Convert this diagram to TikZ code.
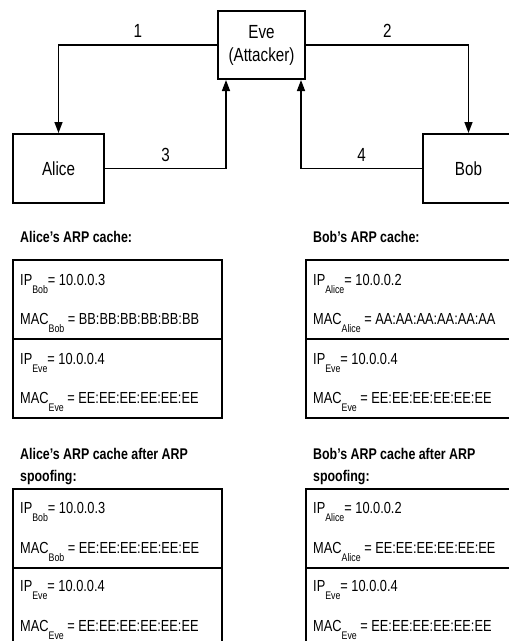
\documentclass[tikz,border=0pt]{standalone}
\usepackage{fontspec}
\setmainfont{Liberation Sans}[FakeStretch=0.8]
\usetikzlibrary{arrows.meta,positioning}

\newcommand{\lowsub}[1]{\raisebox{-8pt}{\fontsize{11}{11}\selectfont #1}}

\begin{document}
\begin{tikzpicture}[x=1pt,y=-1pt,
    party/.style={draw,line width=2pt,inner sep=0pt,align=center,
        font=\fontsize{19}{23}\selectfont},
    link/.style={line width=1.4pt,-{Triangle[length=11pt,width=8pt]}},
    num/.style={above=3pt,font=\fontsize{19}{19}\selectfont},
    entry/.style={draw,line width=2pt,minimum width=209pt,minimum height=79pt,
        inner sep=0pt,anchor=north west},
    row/.style={anchor=base west,inner sep=0pt,font=\fontsize{16}{16}\selectfont},
    caption/.style={anchor=base west,inner sep=0pt,align=left,
        font=\bfseries\fontsize{15.5}{22}\selectfont}]
    \useasboundingbox (0,0) rectangle (509,641);
    \clip (0,0) rectangle (509,641);

    % the three hosts
    \node[party,minimum width=87pt,minimum height=68pt] (eve) at (261.5,45) {Eve\\(Attacker)};
    \node[party,minimum width=91pt,minimum height=69pt] (alice) at (58.5,168.5) {Alice};
    \node[party,minimum width=91pt,minimum height=69pt] (bob) at (468.5,168.5) {Bob};

    \draw[link] (eve.west) -| node[num,pos=0.25] {1} (alice.north);
    \draw[link] (eve.east) -| node[num,pos=0.25] {2} (bob.north);
    \draw[link] (alice.east) -| node[num,pos=0.25] {3} ([xshift=9pt]eve.south west);
    \draw[link] (bob.west) -| node[num,pos=0.25] {4} ([xshift=-5pt]eve.south east);

    % caches before
    \node[caption] (acap) at (20,242) {Alice's ARP cache:};
    \node[entry] (abob) at (12,259) {};
    \node[entry] (aeve) at (12,338) {};
    \node[row] (abobip) at (20,285) {IP\lowsub{Bob}= 10.0.0.3};
    \node[row] (abobmac) at (20,324) {MAC\lowsub{Bob} = BB:BB:BB:BB:BB:BB};
    \node[row] (aeveip) at (20,364) {IP\lowsub{Eve}= 10.0.0.4};
    \node[row] (aevemac) at (20,403) {MAC\lowsub{Eve} = EE:EE:EE:EE:EE:EE};

    \node[caption] (bcap) at (313,242) {Bob's ARP cache:};
    \node[entry] (balice) at (305,259) {};
    \node[entry] (beve) at (305,338) {};
    \node[row] (baliceip) at (313,285) {IP\lowsub{Alice}= 10.0.0.2};
    \node[row] (balicemac) at (313,324) {MAC\lowsub{Alice} = AA:AA:AA:AA:AA:AA};
    \node[row] (beveip) at (313,364) {IP\lowsub{Eve}= 10.0.0.4};
    \node[row] (bevemac) at (313,403) {MAC\lowsub{Eve} = EE:EE:EE:EE:EE:EE};

    % caches after spoofing
    \node[caption] (acap2) at (20,481) {Alice's ARP cache after ARP\\spoofing:};
    \node[entry] (abob2) at (12,488) {};
    \node[entry] (aeve2) at (12,567) {};
    \node[row] (abobip2) at (20,513) {IP\lowsub{Bob}= 10.0.0.3};
    \node[row] (abobmac2) at (20,553) {MAC\lowsub{Bob} = EE:EE:EE:EE:EE:EE};
    \node[row] (aeveip2) at (20,591) {IP\lowsub{Eve}= 10.0.0.4};
    \node[row] (aevemac2) at (20,631) {MAC\lowsub{Eve} = EE:EE:EE:EE:EE:EE};

    \node[caption] (bcap2) at (313,481) {Bob's ARP cache after ARP\\spoofing:};
    \node[entry] (balice2) at (305,488) {};
    \node[entry] (beve2) at (305,567) {};
    \node[row] (baliceip2) at (313,513) {IP\lowsub{Alice}= 10.0.0.2};
    \node[row] (balicemac2) at (313,553) {MAC\lowsub{Alice} = EE:EE:EE:EE:EE:EE};
    \node[row] (beveip2) at (313,591) {IP\lowsub{Eve}= 10.0.0.4};
    \node[row] (bevemac2) at (313,631) {MAC\lowsub{Eve} = EE:EE:EE:EE:EE:EE};
\end{tikzpicture}
\end{document}
